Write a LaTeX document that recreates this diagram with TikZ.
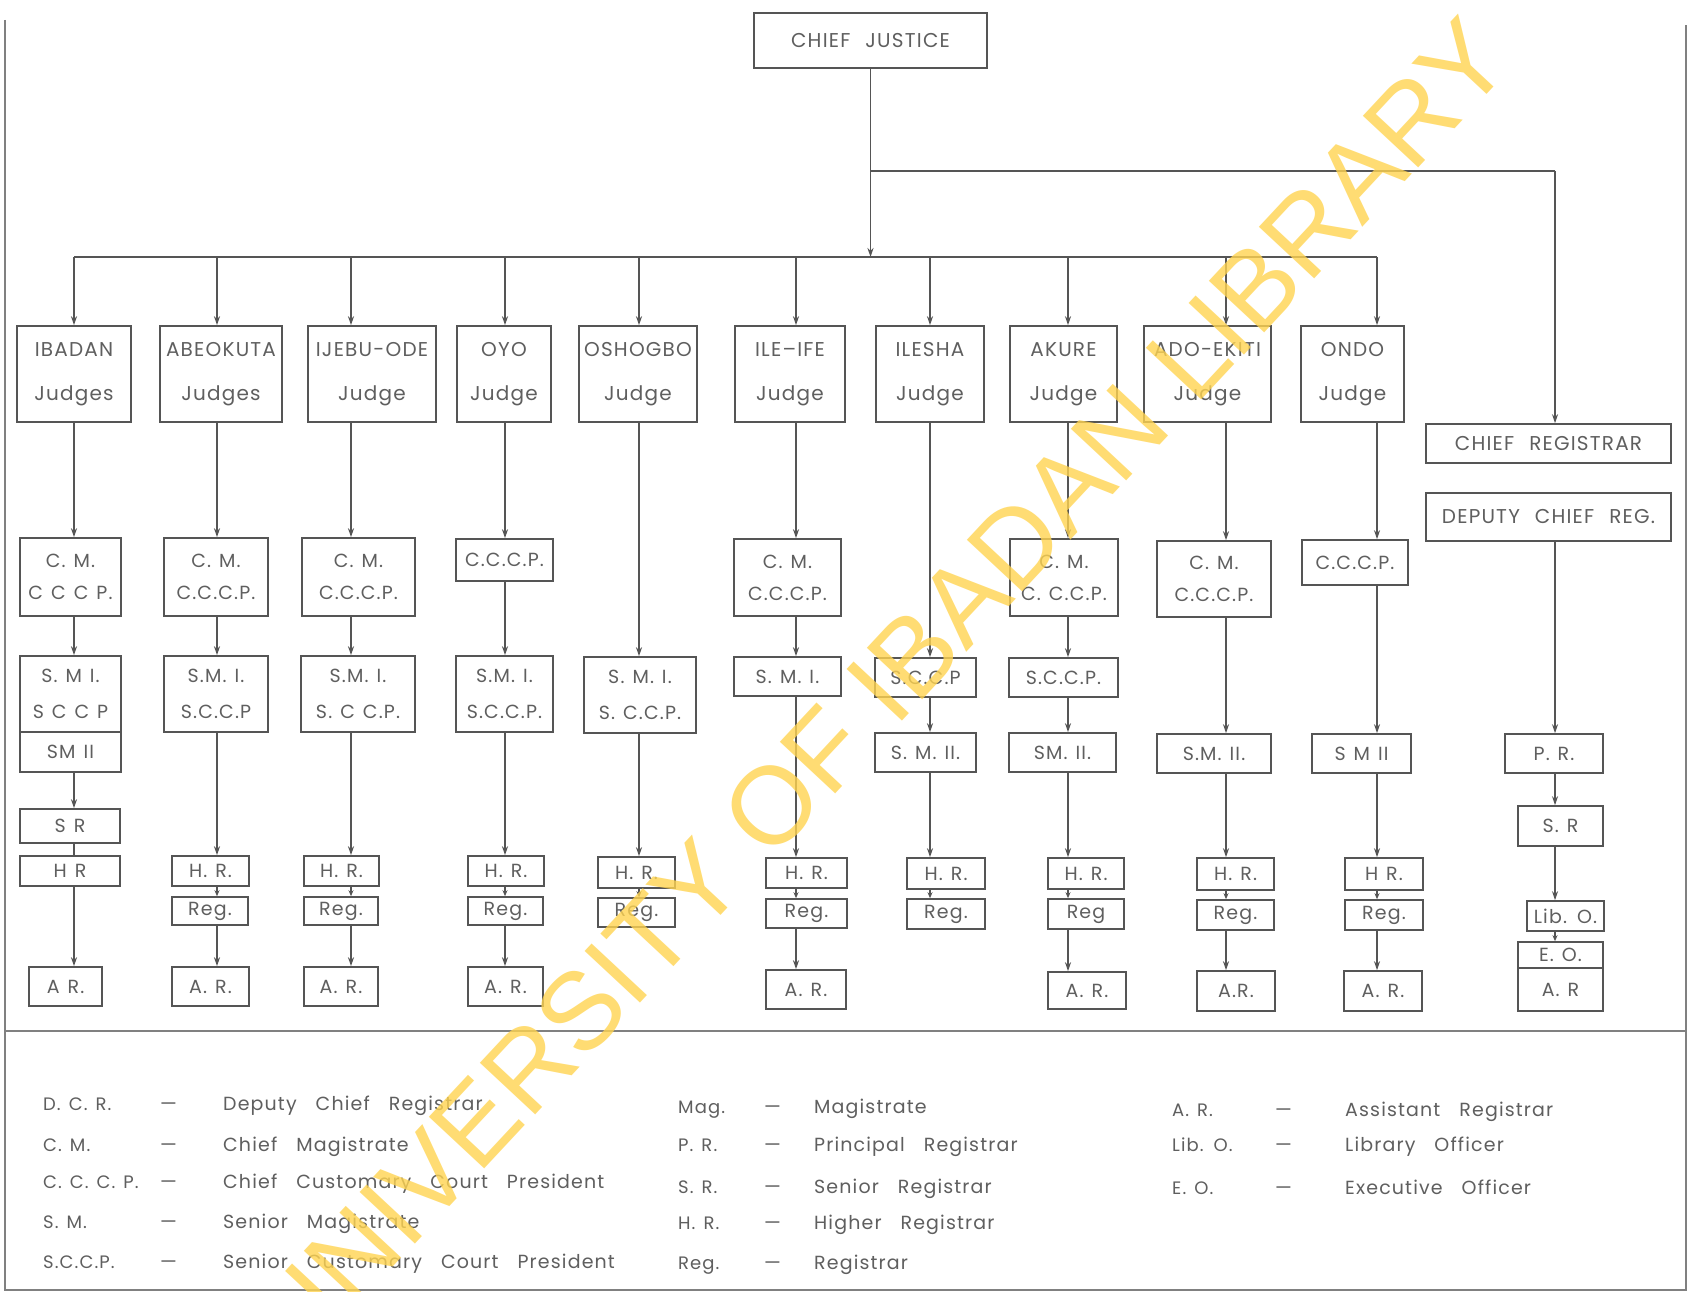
\documentclass[tikz,border=0pt]{standalone}
\usepackage{fontspec}
\setmainfont{Poppins}[LetterSpace=6]
\newfontfamily\wmfont{Liberation Sans}
\usetikzlibrary{arrows.meta}
\definecolor{linec}{RGB}{85,85,85}
\definecolor{txtc}{RGB}{95,95,95}
\definecolor{wmc}{RGB}{255,212,80}
\newcommand\obox[7][]{\node[ob,#1,minimum width={#5-#3},minimum height={#6-#4}] (#2) at ({(#3+#5)/2},{(#4+#6)/2}) {#7};}
\newcommand\lnk[4][arr]{\draw[#1] (#3.south -| #2) -- (#4.north -| #2);}
\newcommand\wsp{\hspace{15pt}}
\tikzset{
  ob/.style={draw=linec,line width=1.6pt,inner sep=0pt,text=txtc,align=center,font={\fontsize{19}{22}\selectfont\spaceskip=8pt\relax}},
  big/.style={font={\fontsize{20}{44}\selectfont\spaceskip=9pt\relax}},
  two/.style={font={\fontsize{19}{32}\selectfont\spaceskip=8pt\relax}},
  twob/.style={font={\fontsize{19}{36}\selectfont\spaceskip=8pt\relax}},
  arr/.style={draw=linec,line width=1.5pt,-{Stealth[length=9pt,width=6pt]}},
  arrs/.style={draw=linec,line width=1.5pt,-{Stealth[length=6pt,width=5pt]}},
  plainln/.style={draw=linec,line width=1.5pt},
  frameln/.style={draw=linec!75,line width=1.5pt},
  lg/.style={anchor=base west,inner sep=0pt,text=txtc,font={\fontsize{19}{22}\selectfont\spaceskip=19pt\relax}},
  lga/.style={anchor=base west,inner sep=0pt,text=txtc,font={\fontsize{18}{22}\selectfont\spaceskip=8pt\relax}}
}
\begin{document}
\begin{tikzpicture}[x=1pt,y=-1pt]
\path[use as bounding box,fill=white] (0,0) rectangle (1689,1292);
% frame
\draw[frameln] (5,20) -- (5,1290) -- (1686,1290) -- (1686,25);
\draw[frameln] (5,1031) -- (1686,1031);
% top
\obox[big]{cj}{754}{13}{987}{68}{CHIEF\wsp JUSTICE}
\coordinate (busM) at (870.5,257);
\coordinate (busL) at (74,257);
\coordinate (busR) at (1377,257);
\coordinate (brk) at (870.5,171);
\coordinate (cR) at (1555,171);
\coordinate (cA) at (74,257);
\coordinate (cB) at (217,257);
\coordinate (cC) at (351,257);
\coordinate (cD) at (505,257);
\coordinate (cE) at (639,257);
\coordinate (cF) at (796,257);
\coordinate (cG) at (930,257);
\coordinate (cH) at (1068,257);
\coordinate (cI) at (1226,257);
\coordinate (cJ) at (1377,257);
% judges
\obox[big]{jA}{17}{326}{131}{422}{IBADAN\\Judges}
\obox[big]{jB}{160}{326}{282}{422}{ABEOKUTA\\Judges}
\obox[big]{jC}{308}{326}{436}{422}{IJEBU-ODE\\Judge}
\obox[big]{jD}{457}{326}{551}{422}{OYO\\Judge}
\obox[big]{jE}{579}{326}{697}{422}{OSHOGBO\\Judge}
\obox[big]{jF}{735}{326}{845}{422}{ILE–IFE\\Judge}
\obox[big]{jG}{876}{326}{984}{422}{ILESHA\\Judge}
\obox[big]{jH}{1010}{326}{1117}{422}{AKURE\\Judge}
\obox[big]{jI}{1144}{326}{1271}{422}{ADO-EKITI\\Judge}
\obox[big]{jJ}{1301}{326}{1404}{422}{ONDO\\Judge}
% CM / CCCP
\obox[two]{cmA}{20}{538}{121}{616}{C. M.\\C C C P.}
\obox[two]{cmB}{164}{538}{268}{616}{C. M.\\C.C.C.P.}
\obox[two]{cmC}{302}{538}{415}{616}{C. M.\\C.C.C.P.}
\obox{ccD}{456}{539}{553}{581}{C.C.C.P.}
\obox[two]{cmF}{734}{539}{841}{616}{C. M.\\C.C.C.P.}
\obox[two]{cmH}{1010}{539}{1118}{616}{C. M.\\C. C.C.P.}
\obox[two]{cmI}{1157}{541}{1271}{617}{C. M.\\C.C.C.P.}
\obox{ccJ}{1302}{540}{1408}{585}{C.C.C.P.}
% SMI / SCCP
\obox[twob]{smA}{20}{656}{121}{732}{S. M I.\\S C C P}
\obox[twob]{smB}{164}{656}{268}{732}{S.M. I.\\S.C.C.P}
\obox[twob]{smC}{301}{656}{415}{732}{S.M. I.\\S. C C.P.}
\obox[twob]{smD}{456}{656}{553}{732}{S.M. I.\\S.C.C.P.}
\obox[twob]{smE}{584}{657}{696}{733}{S. M. I.\\S. C.C.P.}
\obox{smF}{734}{657}{841}{696}{S. M. I.}
\obox{scG}{875}{658}{976}{697}{S.C.C.P}
\obox{scH}{1009}{658}{1118}{697}{S.C.C.P.}
% SM II
\obox{s2A}{20}{732}{121}{772}{SM II}
\obox{s2G}{875}{733}{976}{772}{S. M. II.}
\obox{s2H}{1009}{733}{1116}{772}{SM. II.}
\obox{s2I}{1157}{734}{1271}{773}{S.M. II.}
\obox{s2J}{1312}{734}{1411}{773}{S M II}
% Ibadan S.R. / H.R.
\obox{srA}{20}{809}{120}{843}{S R}
\obox{hrA}{20}{856}{120}{886}{H R}
% H.R.
\obox{hrB}{172}{856}{249}{886}{H. R.}
\obox{hrC}{304}{856}{379}{886}{H. R.}
\obox{hrD}{468}{856}{544}{886}{H. R.}
\obox{hrE}{598}{857}{675}{888}{H. R.}
\obox{hrF}{766}{858}{847}{888}{H. R.}
\obox{hrG}{907}{858}{985}{889}{H. R.}
\obox{hrH}{1048}{858}{1124}{889}{H. R.}
\obox{hrI}{1197}{858}{1274}{890}{H. R.}
\obox{hrJ}{1345}{858}{1423}{890}{H R.}
% Reg.
\obox{rgB}{172}{897}{248}{925}{Reg.}
\obox{rgC}{304}{897}{378}{925}{Reg.}
\obox{rgD}{468}{897}{543}{925}{Reg.}
\obox{rgE}{598}{898}{675}{927}{Reg.}
\obox{rgF}{766}{899}{847}{928}{Reg.}
\obox{rgG}{907}{899}{985}{929}{Reg.}
\obox{rgH}{1048}{899}{1124}{929}{Reg}
\obox{rgI}{1197}{900}{1274}{930}{Reg.}
\obox{rgJ}{1345}{900}{1423}{930}{Reg.}
% A.R.
\obox{arA}{29}{967}{102}{1006}{A R.}
\obox{arB}{172}{967}{249}{1006}{A. R.}
\obox{arC}{304}{967}{378}{1006}{A. R.}
\obox{arD}{468}{967}{543}{1006}{A. R.}
\obox{arF}{766}{970}{846}{1009}{A. R.}
\obox{arH}{1048}{972}{1126}{1009}{A. R.}
\obox{arI}{1197}{971}{1275}{1011}{A.R.}
\obox{arJ}{1344}{971}{1422}{1011}{A. R.}
% registrar column
\obox[big]{cr}{1426}{424}{1671}{463}{CHIEF\wsp REGISTRAR}
\obox[big]{dcr}{1426}{493}{1671}{541}{DEPUTY\wsp CHIEF\wsp REG.}
\obox{pr}{1505}{734}{1603}{773}{P. R.}
\obox{srR}{1518}{806}{1603}{846}{S. R}
\obox{lib}{1527}{901}{1604}{931}{Lib. O.}
\obox{eo}{1518}{942}{1603}{968}{E. O.}
\obox{arR}{1518}{968}{1603}{1011}{A. R}
% top connectors
\draw[arr] (cj.south) -- (busM);
\draw[plainln] (busL) -- (busR);
\draw[plainln] (brk) -- (cR);
\draw[arr] (cR) -- (cr.north -| cR);
\foreach \c/\j in {cA/jA,cB/jB,cC/jC,cD/jD,cE/jE,cF/jF,cG/jG,cH/jH,cI/jI,cJ/jJ}{
  \draw[arr] (\c) -- (\j.north -| \c);
}
% column A
\lnk{cA}{jA}{cmA}\lnk{cA}{cmA}{smA}\lnk{cA}{s2A}{srA}\lnk[plainln]{cA}{srA}{hrA}\lnk{cA}{hrA}{arA}
% column B
\lnk{cB}{jB}{cmB}\lnk{cB}{cmB}{smB}\lnk{cB}{smB}{hrB}\lnk[arrs]{cB}{hrB}{rgB}\lnk{cB}{rgB}{arB}
% column C
\lnk{cC}{jC}{cmC}\lnk{cC}{cmC}{smC}\lnk{cC}{smC}{hrC}\lnk[arrs]{cC}{hrC}{rgC}\lnk{cC}{rgC}{arC}
% column D
\lnk{cD}{jD}{ccD}\lnk{cD}{ccD}{smD}\lnk{cD}{smD}{hrD}\lnk[arrs]{cD}{hrD}{rgD}\lnk{cD}{rgD}{arD}
% column E
\lnk{cE}{jE}{smE}\lnk{cE}{smE}{hrE}\lnk[arrs]{cE}{hrE}{rgE}
% column F
\lnk{cF}{jF}{cmF}\lnk{cF}{cmF}{smF}\lnk{cF}{smF}{hrF}\lnk[arrs]{cF}{hrF}{rgF}\lnk{cF}{rgF}{arF}
% column G
\lnk{cG}{jG}{scG}\lnk{cG}{scG}{s2G}\lnk{cG}{s2G}{hrG}\lnk[arrs]{cG}{hrG}{rgG}
% column H
\lnk{cH}{jH}{cmH}\lnk{cH}{cmH}{scH}\lnk{cH}{scH}{s2H}\lnk{cH}{s2H}{hrH}\lnk[arrs]{cH}{hrH}{rgH}\lnk{cH}{rgH}{arH}
% column I
\lnk{cI}{jI}{cmI}\lnk{cI}{cmI}{s2I}\lnk{cI}{s2I}{hrI}\lnk[arrs]{cI}{hrI}{rgI}\lnk{cI}{rgI}{arI}
% column J
\lnk{cJ}{jJ}{ccJ}\lnk{cJ}{ccJ}{s2J}\lnk{cJ}{s2J}{hrJ}\lnk[arrs]{cJ}{hrJ}{rgJ}\lnk{cJ}{rgJ}{arJ}
% registrar column
\lnk{cR}{dcr}{pr}\lnk{cR}{pr}{srR}\lnk{cR}{srR}{lib}\lnk[arrs]{cR}{lib}{eo}
% legend column 1
\node[lga] (l1a) at (43,1110) {D. C. R.};
\node[lga] (l1b) at (43,1151) {C. M.};
\node[lga] (l1c) at (43,1188) {C. C. C. P.};
\node[lga] (l1d) at (43,1228) {S. M.};
\node[lga] (l1e) at (43,1268) {S.C.C.P.};
\node[lg] (d1a) at (160,1110) {—};
\node[lg] (d1b) at (160,1151) {—};
\node[lg] (d1c) at (160,1188) {—};
\node[lg] (d1d) at (160,1228) {—};
\node[lg] (d1e) at (160,1268) {—};
\node[lg] (t1a) at (223,1110) {Deputy Chief Registrar};
\node[lg] (t1b) at (223,1151) {Chief Magistrate};
\node[lg] (t1c) at (223,1188) {Chief Customary Court President};
\node[lg] (t1d) at (223,1228) {Senior Magistrate};
\node[lg] (t1e) at (223,1268) {Senior Customary Court President};
% legend column 2
\node[lga] (l2a) at (678,1113) {Mag.};
\node[lga] (l2b) at (678,1151) {P. R.};
\node[lga] (l2c) at (678,1193) {S. R.};
\node[lga] (l2d) at (678,1229) {H. R.};
\node[lga] (l2e) at (678,1269) {Reg.};
\node[lg] (d2a) at (764,1113) {—};
\node[lg] (d2b) at (764,1151) {—};
\node[lg] (d2c) at (764,1193) {—};
\node[lg] (d2d) at (764,1229) {—};
\node[lg] (d2e) at (764,1269) {—};
\node[lg] (t2a) at (814,1113) {Magistrate};
\node[lg] (t2b) at (814,1151) {Principal Registrar};
\node[lg] (t2c) at (814,1193) {Senior Registrar};
\node[lg] (t2d) at (814,1229) {Higher Registrar};
\node[lg] (t2e) at (814,1269) {Registrar};
% legend column 3
\node[lga] (l3a) at (1172,1116) {A. R.};
\node[lga] (l3b) at (1172,1151) {Lib. O.};
\node[lga] (l3c) at (1172,1194) {E. O.};
\node[lg] (d3a) at (1275,1116) {—};
\node[lg] (d3b) at (1275,1151) {—};
\node[lg] (d3c) at (1275,1194) {—};
\node[lg] (t3a) at (1345,1116) {Assistant Registrar};
\node[lg] (t3b) at (1345,1151) {Library Officer};
\node[lg] (t3c) at (1345,1194) {Executive Officer};
% watermark
\begin{scope}
\clip (0,0) rectangle (1689,1292);
\node[rotate=47,text=wmc,opacity=0.8,inner sep=0pt,font=\wmfont\fontsize{110}{120}\selectfont] (wm) at (880,690) {UNIVERSITY OF IBADAN LIBRARY};
\end{scope}
\end{tikzpicture}
\end{document}
